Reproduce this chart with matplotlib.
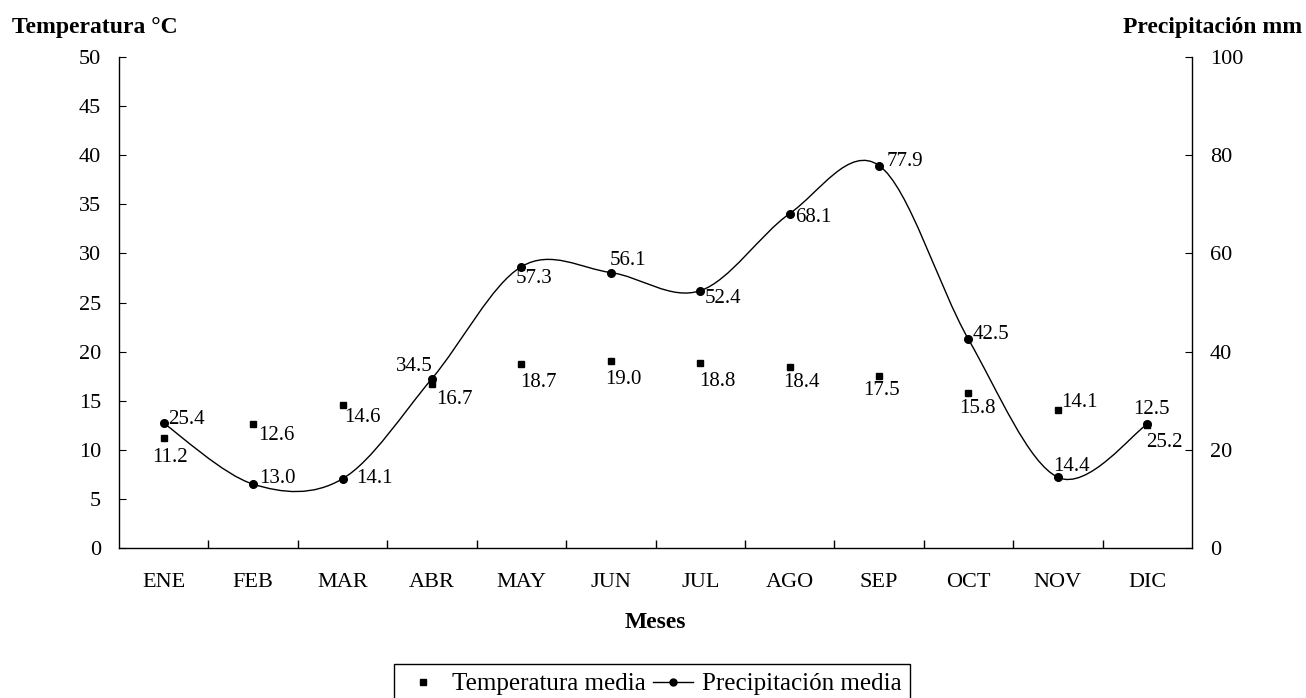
import matplotlib
matplotlib.use("Agg")
import matplotlib.pyplot as plt
from matplotlib.path import Path
from matplotlib.patches import PathPatch
from matplotlib.lines import Line2D
import numpy as np

months = ["ENE", "FEB", "MAR", "ABR", "MAY", "JUN", "JUL", "AGO", "SEP", "OCT", "NOV", "DIC"]
temperatura = [11.2, 12.6, 14.6, 16.7, 18.7, 19.0, 18.8, 18.4, 17.5, 15.8, 14.1, 12.5]
precipitacion = [25.4, 13.0, 14.1, 34.5, 57.3, 56.1, 52.4, 68.1, 77.9, 42.5, 14.4, 25.2]

# label offsets (pixels) - styling only
temp_off = [(6, -19), (23, -11), (20, -13), (22, -15), (17, -18), (13, -18), (17, -18),
            (12, -15), (2, -14), (9, -16), (22, 7), (4, 16)]
prec_off = [(23, 4), (24, 6), (32, 0), (-18, 12), (13, -12), (17, 12), (23, -8),
            (24, -4), (26, 4), (22, 5), (14, 11), (17, -18)]

plt.rcParams['font.family'] = ['Liberation Serif', 'DejaVu Serif']

fig = plt.figure(figsize=(13.06, 6.98), dpi=100)
L, R, B, T = 119 / 1306, 1192 / 1306, 1 - 548 / 698, 1 - 57 / 698
ax = fig.add_axes([L, B, R - L, T - B])
ax2 = ax.twinx()

x = np.arange(len(months))
ax.set_xlim(-0.5, len(months) - 0.5)
ax.set_ylim(0, 50)
ax2.set_ylim(0, 100)

for a in (ax, ax2):
    a.spines['top'].set_visible(False)
    for s in a.spines.values():
        s.set_linewidth(1.0)
ax.spines['right'].set_visible(False)
ax2.spines['left'].set_visible(False)
ax2.spines['bottom'].set_visible(False)

ax.set_yticks(np.arange(0, 51, 5))
ax2.set_yticks(np.arange(0, 101, 20))
ax.tick_params(axis='y', direction='in', length=5, pad=13, labelsize=16)
ax2.tick_params(axis='y', direction='in', length=5, pad=13, labelsize=16)
ax.set_xticks(x)
ax.set_xticklabels(months)
ax.tick_params(axis='x', which='major', length=0, pad=18, labelsize=16)
ax.set_xticks(np.arange(0.5, len(months) - 1, 1.0), minor=True)
ax.tick_params(axis='x', which='minor', direction='in', length=6, width=1)

# temperature: markers only
ax.plot(x, temperatura, linestyle='none', marker='s', markersize=5, color='black', zorder=5)
for xi, v, (dx, dy) in zip(x, temperatura, temp_off):
    ax.annotate(f"{v:.1f}", (xi, v), xytext=(dx, dy), textcoords='offset pixels',
                ha='center', va='center', fontsize=15)

# precipitation: smoothed line (Catmull-Rom Bezier) through the points
px = list(x.astype(float))
py = list(precipitacion)
n = len(px)
verts = [(px[0], py[0])]
codes = [Path.MOVETO]
for i in range(n - 1):
    i0 = max(i - 1, 0)
    i3 = min(i + 2, n - 1)
    c1 = (px[i] + (px[i + 1] - px[i0]) / 6.0, py[i] + (py[i + 1] - py[i0]) / 6.0)
    c2 = (px[i + 1] - (px[i3] - px[i]) / 6.0, py[i + 1] - (py[i3] - py[i]) / 6.0)
    verts += [c1, c2, (px[i + 1], py[i + 1])]
    codes += [Path.CURVE4, Path.CURVE4, Path.CURVE4]
ax2.add_patch(PathPatch(Path(verts, codes), facecolor='none', edgecolor='black', lw=1.0, zorder=4))
ax2.plot(x, precipitacion, linestyle='none', marker='o', markersize=5.5, color='black', zorder=5)
for xi, v, (dx, dy) in zip(x, precipitacion, prec_off):
    ax2.annotate(f"{v:.1f}", (xi, v), xytext=(dx, dy), textcoords='offset pixels',
                 ha='center', va='center', fontsize=15)

fig.text(12 / 1306, 1 - 27 / 698, "Temperatura °C", fontsize=17, fontweight='bold',
         ha='left', va='center')
fig.text(1302 / 1306, 1 - 27 / 698, "Precipitación mm", fontsize=17, fontweight='bold',
         ha='right', va='center')
fig.text(655 / 1306, 1 - 622 / 698, "Meses", fontsize=17, fontweight='bold',
         ha='center', va='center')

h1 = Line2D([], [], linestyle='none', marker='s', markersize=5, color='black')
h2 = Line2D([], [], linestyle='-', lw=1.0, marker='o', markersize=5, color='black')
leg = fig.legend([h1, h2], ["Temperatura media", "Precipitación media"], loc='upper center',
                 bbox_to_anchor=(652 / 1306, 1 - 664 / 698), ncol=2, fontsize=18,
                 frameon=True, fancybox=False, edgecolor='black', framealpha=1,
                 borderpad=0.35, handlelength=1.6, handletextpad=0.35, columnspacing=0.3,
                 borderaxespad=0)
leg.get_frame().set_linewidth(1.0)

fig.savefig("out.png", dpi=100)
